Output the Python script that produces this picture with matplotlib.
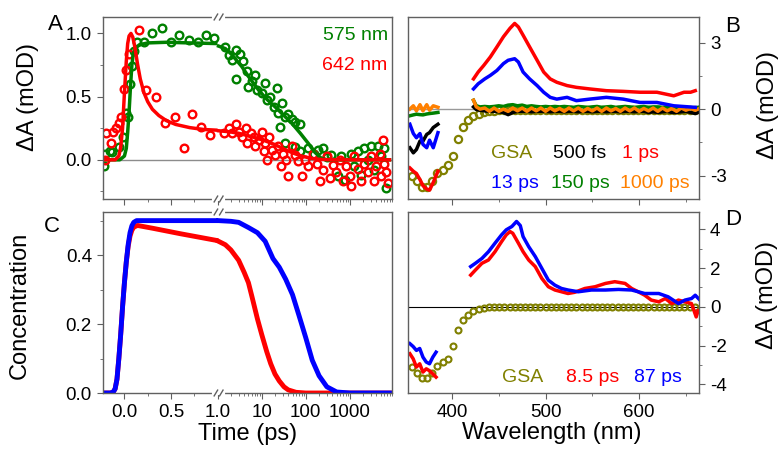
import numpy as np
import matplotlib
matplotlib.use('Agg')
import matplotlib.pyplot as plt

plt.rcParams['font.family'] = ['Liberation Sans', 'DejaVu Sans']
plt.rcParams['axes.unicode_minus'] = False

GREEN = '#008000'
RED = '#ff0000'
BLUE = '#0000ff'
OLIVE = '#808000'
ORANGE = '#ff8000'
FRAME = '#606060'

# ---- panel A: kinetic traces (time in ps, dA in mOD) ----
g575_t = [-0.22, -0.21, -0.16, -0.13, -0.06, -0.02, 0.02, 0.035, 0.06, 0.08, 0.10, 0.13,
          0.21, 0.30, 0.40, 0.50, 0.59, 0.69, 0.79, 0.88, 0.96,
          1.5, 1.8, 2.15, 2.6, 2.55, 3.15, 3.8, 4.7, 4.9, 6.1, 7.2, 7.9, 10, 12, 13,
          15.6, 18.6, 22, 24, 26, 28.5, 34, 40, 48, 57, 74, 34, 57, 74, 114, 150, 190,
          247, 300, 380, 540, 640, 760, 1070, 1270, 1500, 1800, 2140, 2550, 3000, 3500,
          4240, 5000, 6000, 6600]
g575_v = [-0.05, 0.05, 0.07, 0.06, 0.10, 0.18, 0.37, 0.34, 0.60, 0.74, 0.86, 0.93,
          0.93, 1.00, 1.04, 0.93, 0.99, 0.95, 0.93, 0.99, 0.96,
          0.89, 0.83, 0.79, 0.87, 0.64, 0.84, 0.78, 0.70, 0.58, 0.62, 0.67, 0.55, 0.53, 0.61, 0.47,
          0.50, 0.42, 0.57, 0.37, 0.26, 0.45, 0.34, 0.36, 0.32, 0.30, 0.28, 0.13, 0.10, 0.07, 0.09, 0.05, 0.08,
          0.09, 0.02, 0.04, -0.13, 0.03, -0.16, 0.05, -0.05, 0.07, -0.12, 0.09, 0.00, 0.11, -0.08,
          0.11, 0.03, 0.09, -0.22]
r642_t = [-0.21, -0.20, -0.14, -0.12, -0.09, -0.06, -0.04, 0.0, 0.02, 0.05, 0.16, 0.23,
          0.34, 0.44, 0.54, 0.64, 0.73, 0.82, 0.92,
          1.4, 1.8, 2.15, 2.6, 3.0, 3.6, 4.3, 4.6, 5.6, 6.6, 7.2, 8.6, 10, 11, 12, 13, 14.3,
          17, 20, 24, 27.7, 31, 36, 40, 48, 57, 67, 81, 96, 114, 147, 177, 210, 247, 295,
          350, 410, 490, 585, 690, 820, 980, 1070, 1270, 1500, 1800, 2140, 2550, 3000,
          3500, 3900, 4700, 5000, 5500, 6000, 6600, 7200]
r642_v = [0.00, 0.21, 0.13, 0.22, 0.25, 0.29, 0.34, 0.56, 0.71, 0.84, 1.03, 0.55,
          0.50, 0.29, 0.34, 0.09, 0.36, 0.26, 0.20,
          0.21, 0.25, 0.21, 0.28, 0.22, 0.18, 0.25, 0.13, 0.21, 0.18, 0.11, 0.16, 0.22, 0.07, 0.13, 0.00, 0.18,
          0.08, 0.04, 0.11, -0.05, 0.05, 0.00, -0.13, 0.11, 0.04, -0.01, -0.13, 0.00, -0.05, 0.05, -0.03, -0.17, -0.08, 0.03,
          -0.14, -0.04, -0.10, 0.00, -0.17, -0.05, -0.13, -0.21, 0.03, -0.07, -0.17, -0.03, -0.10, 0.03,
          -0.17, -0.05, 0.05, -0.13, 0.16, -0.03, -0.10, -0.18]

# fitted curves, short-time (linear) and long-time (log) parts
g575_fit_t1 = [-0.23, -0.05, 0.0, 0.02, 0.035, 0.05, 0.065, 0.08, 0.095, 0.12, 0.16, 0.25, 0.45, 0.7, 0.98]
g575_fit_v1 = [0.0, 0.0, 0.03, 0.09, 0.22, 0.38, 0.58, 0.75, 0.84, 0.885, 0.91, 0.925, 0.93, 0.925, 0.92]
g575_fit_t2 = [1.05, 1.5, 2, 3.5, 5, 8.6, 13, 20, 30, 48, 75, 114, 160, 220, 300, 7900]
g575_fit_v2 = [0.90, 0.88, 0.84, 0.74, 0.66, 0.55, 0.48, 0.42, 0.36, 0.29, 0.21, 0.13, 0.06, 0.015, 0.0, 0.0]
r642_fit_t1 = [-0.23, -0.1, -0.06, -0.04, -0.02, 0.0, 0.02, 0.035, 0.05, 0.07, 0.09, 0.11, 0.14, 0.17,
               0.21, 0.25, 0.30, 0.37, 0.45, 0.55, 0.70, 0.85, 0.98]
r642_fit_v1 = [0.0, 0.0, 0.03, 0.10, 0.25, 0.53, 0.78, 0.92, 0.98, 1.0, 0.97, 0.90, 0.76, 0.64,
               0.53, 0.46, 0.40, 0.35, 0.31, 0.28, 0.255, 0.24, 0.235]
r642_fit_t2 = [1.05, 1.5, 2, 3, 5, 8, 12, 20, 30, 50, 80, 130, 200, 400, 7900]
r642_fit_v2 = [0.23, 0.225, 0.22, 0.21, 0.19, 0.17, 0.15, 0.12, 0.09, 0.055, 0.03, 0.012, 0.004, 0.0, 0.0]

# ---- panel C: concentrations ----
cb_t1 = [-0.23, -0.15, -0.12, -0.1, -0.08, -0.06, -0.04, -0.02, 0.0, 0.02, 0.04, 0.06, 0.08, 0.1, 0.13, 0.2, 0.5, 0.98]
cb_v1 = [0.0, 0.0, 0.003, 0.012, 0.04, 0.10, 0.17, 0.25, 0.32, 0.38, 0.43, 0.465, 0.485, 0.495, 0.5, 0.5, 0.5, 0.5]
cb_t2 = [1.05, 2, 3, 5, 8, 12, 18, 25, 35, 50, 70, 100, 140, 200, 300, 500, 1000, 7900]
cb_v2 = [0.5, 0.498, 0.495, 0.48, 0.465, 0.44, 0.39, 0.365, 0.33, 0.285, 0.225, 0.16, 0.095, 0.05, 0.018, 0.003, 0.0, 0.0]
cr_t1 = [-0.23, -0.15, -0.12, -0.1, -0.08, -0.06, -0.04, -0.02, 0.0, 0.02, 0.04, 0.06, 0.08, 0.1, 0.14, 0.3, 0.6, 0.98]
cr_v1 = [0.0, 0.0, 0.003, 0.012, 0.04, 0.10, 0.17, 0.25, 0.32, 0.38, 0.425, 0.455, 0.472, 0.481, 0.486, 0.478, 0.462, 0.443]
cr_t2 = [1.05, 1.5, 2, 3, 4, 5, 6, 8, 10, 13, 16, 20, 25, 32, 40, 60, 100, 7900]
cr_v2 = [0.44, 0.43, 0.415, 0.385, 0.35, 0.32, 0.28, 0.215, 0.17, 0.12, 0.085, 0.055, 0.035, 0.018, 0.009, 0.002, 0.0, 0.0]

# ---- panels B and D: spectra (wavelength in nm, dA in mOD) ----
gsa_wl = [357, 362.5, 368, 373.5, 379, 384.5, 390, 395.5, 401, 406.5, 412, 417.5, 423, 428.5,
          434, 439.5, 445, 450.5, 456, 461.5, 467, 472.5, 478, 483.5, 489, 494.5, 500, 505.5,
          511, 516.5, 522, 527.5, 533, 538.5, 544, 549.5, 555, 560.5, 566, 571.5, 577, 582.5,
          588, 593.5, 599, 604.5, 610, 615.5, 621, 626.5, 632, 637.5, 643, 648.5, 654, 659.5]
gsa_b = [-3.03, -3.26, -3.50, -3.50, -3.25, -2.90, -2.75, -2.50, -2.10, -1.35, -0.80, -0.50, -0.30, -0.20,
         -0.14, -0.10, -0.08, -0.06, -0.05, -0.05, -0.05, -0.05, -0.05, -0.05, -0.05, -0.05, -0.05, -0.05,
         -0.05, -0.05, -0.05, -0.05, -0.05, -0.05, -0.05, -0.05, -0.05, -0.05, -0.05, -0.05, -0.05, -0.05,
         -0.05, -0.05, -0.05, -0.05, -0.05, -0.05, -0.05, -0.05, -0.05, -0.05, -0.05, -0.05, -0.05, -0.05]
gsa_d = [-3.10, -3.40, -3.65, -3.70, -3.40, -3.05, -2.85, -2.70, -2.00, -1.20, -0.70, -0.40, -0.20, -0.10,
         -0.05, -0.03, -0.02, -0.02, -0.02, -0.02, -0.02, -0.02, -0.02, -0.02, -0.02, -0.02, -0.02, -0.02,
         -0.02, -0.02, -0.02, -0.02, -0.02, -0.02, -0.02, -0.02, -0.02, -0.02, -0.02, -0.02, -0.02, -0.02,
         -0.02, -0.02, -0.02, -0.02, -0.02, -0.02, -0.02, -0.02, -0.02, -0.02, -0.02, -0.02, -0.02, -0.02]

wl_uv = [355, 358.7, 362, 365.8, 369, 373, 376, 380, 385]
b_1ps_uv = [-2.65, -2.80, -2.90, -3.18, -3.45, -3.60, -3.65, -3.30, -2.80]
b_500fs_uv = [-1.74, -1.97, -1.82, -1.44, -1.44, -1.14, -1.06, -0.83, -0.68]
b_13ps_uv = [-0.68, -1.10, -1.29, -1.10, -1.59, -1.74, -1.40, -1.74, -1.06]
b_150ps_uv = [-0.30, -0.26, -0.23, -0.25, -0.26, -0.22, -0.20, -0.18, -0.15]
b_1000ps_uv = [0.00, 0.15, -0.08, 0.20, -0.08, 0.20, -0.05, 0.15, 0.08]

b_1ps_wl = [423, 428, 434, 441, 448, 455, 462, 467, 471, 476, 483, 491, 498, 505, 512, 523, 533,
            547, 565, 583, 601, 619, 637, 648, 655, 660]
b_1ps = [1.36, 1.67, 1.97, 2.35, 2.80, 3.26, 3.64, 3.86, 3.70, 3.33, 2.80, 2.20, 1.67, 1.36, 1.21, 1.06, 0.98,
         0.91, 0.83, 0.80, 0.76, 0.76, 0.60, 0.76, 0.76, 0.83]
b_13ps_wl = [423, 428, 435, 441, 448, 455, 460, 467, 471, 476, 483, 491, 498, 505, 512, 523, 533,
             547, 565, 583, 601, 619, 637, 660]
b_13ps = [0.91, 1.14, 1.36, 1.52, 1.74, 2.05, 2.20, 2.27, 2.12, 1.67, 1.36, 1.06, 0.76, 0.53, 0.45, 0.53, 0.38,
          0.45, 0.53, 0.45, 0.30, 0.30, 0.15, 0.08]
b_flat_wl = [423, 426, 430, 435, 440, 445, 450, 455, 460, 465, 470, 475, 480, 485, 490, 495, 500, 505,
             510, 515, 520, 525, 530, 535, 540, 545, 550, 555, 560, 565, 570, 575, 580, 585, 590, 595,
             600, 605, 610, 615, 620, 625, 630, 635, 640, 645, 650, 655, 660, 663]
b_500fs = [0.10, -0.02, -0.05, -0.08, -0.10, -0.10, -0.12, -0.15, -0.25, -0.15, -0.10, -0.10, -0.10, -0.12,
           -0.10, -0.10, -0.10, -0.12, -0.10, -0.10, -0.12, -0.10, -0.10, -0.12, -0.10, -0.10, -0.12,
           -0.10, -0.10, -0.12, -0.10, -0.10, -0.12, -0.10, -0.10, -0.12, -0.10, -0.10, -0.15, -0.12,
           -0.15, -0.12, -0.10, -0.15, -0.15, -0.12, -0.10, -0.15, -0.20, -0.15]
b_150ps = [0.40, 0.15, 0.10, 0.12, 0.10, 0.12, 0.15, 0.12, 0.18, 0.20, 0.15, 0.18, 0.12, 0.15, 0.12,
           0.10, 0.12, 0.10, 0.12, 0.10, 0.12, 0.10, 0.08, 0.12, 0.10, 0.08, 0.10, 0.12, 0.08, 0.10,
           0.12, 0.08, 0.10, 0.12, 0.10, 0.08, 0.10, 0.12, 0.08, 0.10, 0.10, 0.08, 0.10, 0.05, 0.08,
           0.05, 0.08, 0.05, 0.05, 0.08]
b_1000ps = [0.40, 0.10, 0.00, 0.05, -0.10, 0.05, -0.10, 0.00, -0.10, 0.05, -0.08, 0.05, -0.10, 0.05,
            -0.08, 0.05, -0.10, 0.05, -0.08, 0.03, -0.10, 0.05, -0.08, 0.05, -0.10, 0.03, -0.08, 0.05,
            -0.10, 0.05, -0.08, 0.03, -0.10, 0.05, -0.08, 0.05, -0.10, 0.03, -0.08, 0.05, -0.10, 0.05,
            -0.08, 0.03, -0.10, 0.05, -0.05, 0.03, -0.05, 0.00]

d_uv_wl = [355, 358.5, 362, 365.5, 369, 372.5, 376, 379.5, 383]
d_8ps_uv = [-2.42, -2.68, -3.11, -2.94, -3.37, -3.20, -3.30, -3.46, -3.63]
d_87ps_uv = [-1.90, -2.05, -2.25, -2.15, -2.60, -2.85, -2.94, -2.60, -2.34]
d_8ps_wl = [420, 425, 432, 439, 446, 453, 458, 462, 465, 471, 476, 482, 489, 496, 503, 510, 517, 524,
            531, 542, 553, 564, 574, 585, 592, 599, 606, 613, 621, 628, 635, 642, 649, 656, 661, 663]
d_8ps = [1.64, 1.90, 2.25, 2.42, 2.85, 3.37, 3.72, 3.89, 3.80, 3.29, 2.85, 2.42, 2.08, 1.47, 1.04, 0.87, 0.78, 0.69,
         0.75, 0.95, 1.04, 1.21, 1.30, 1.21, 0.95, 0.78, 0.60, 0.35, 0.26, 0.43, 0.17, 0.35, 0.26, 0.17, -0.52, -0.20]
d_87ps_wl = [420, 425, 432, 439, 446, 453, 458, 464, 469, 473, 476, 482, 489, 496, 503, 510, 517, 524,
             535, 549, 564, 578, 592, 606, 621, 631, 642, 649, 656, 660, 664]
d_87ps = [2.08, 2.25, 2.50, 2.85, 3.29, 3.72, 3.98, 4.15, 4.41, 4.20, 3.63, 3.11, 2.60, 1.99, 1.38, 1.12, 0.95, 0.87,
          0.78, 0.87, 0.87, 0.90, 0.87, 0.69, 0.69, 0.52, 0.17, 0.35, 0.43, 0.60, 0.40]

# broken time axis: linear up to 1 ps, log afterwards
K = 44.5 / 94.0


def fwd(x):
    x = np.asarray(x, dtype=float)
    return np.where(x <= 1, x, 1 + K * np.log10(np.maximum(x, 1)))


def inv(y):
    y = np.asarray(y, dtype=float)
    return np.where(y <= 1, y, 10 ** ((np.minimum(y, 20) - 1) / K))


W, H = 778, 449
fig = plt.figure(figsize=(W / 100, H / 100), dpi=100)


def add_axes(l, r, t, b):
    return fig.add_axes([l / W, 1 - b / H, (r - l) / W, (b - t) / H])


def style(ax):
    for s in ax.spines.values():
        s.set_color(FRAME)
        s.set_linewidth(1)
    ax.tick_params(which='both', direction='out', color=FRAME, labelsize=13.5, pad=4)
    ax.tick_params(which='major', length=4)
    ax.tick_params(which='minor', length=2.5)


def time_axis(ax, labels):
    ax.set_xscale('function', functions=(fwd, inv))
    ax.set_xlim(-0.23, 7900)
    ax.set_xticks([0, 0.5, 1, 10, 100, 1000])
    ax.set_xticks([0.25, 0.75] + [m * 10 ** e for e in range(0, 4) for m in range(2, 10)], minor=True)
    if labels:
        ax.set_xticklabels(['0.0', '0.5', '1.0', '10', '100', '1000'])
    else:
        ax.set_xticklabels([])
    # break marks
    xb = (fwd(1.0) + 0.23) / (fwd(7900) + 0.23)
    gap = 4.5 / 289
    for y in (0, 1):
        ax.plot([xb - gap, xb + gap], [y, y], color='white', lw=3, transform=ax.transAxes,
                clip_on=False, zorder=5)
        for dx in (-gap * 0.6, gap * 0.6):
            ax.plot([xb + dx - 0.006, xb + dx + 0.006], [y - 0.016, y + 0.016], color=FRAME, lw=1,
                    transform=ax.transAxes, clip_on=False, zorder=6)


# ---- A ----
axA = add_axes(103, 392, 17, 199)
style(axA)
axA.axhline(0, color='#8c8c8c', lw=1, zorder=0)
axA.plot(g575_t, g575_v, 'o', ms=5.5, mfc='none', mec=GREEN, mew=1.7)
axA.plot(r642_t, r642_v, 'o', ms=5.5, mfc='none', mec=RED, mew=1.7)
axA.plot(g575_fit_t1, g575_fit_v1, color=GREEN, lw=2.5)
axA.plot(g575_fit_t2, g575_fit_v2, color=GREEN, lw=2.5)
axA.plot(r642_fit_t1, r642_fit_v1, color=RED, lw=2.5)
axA.plot(r642_fit_t2, r642_fit_v2, color=RED, lw=2.5)
time_axis(axA, False)
axA.set_ylim(-0.31, 1.13)
axA.set_yticks([0, 0.5, 1.0])
axA.set_yticklabels(['0.0', '0.5', '1.0'])
axA.set_yticks([-0.25, 0.25, 0.75], minor=True)
axA.text(0.985, 0.90, '575 nm', color=GREEN, fontsize=14, ha='right', va='center', transform=axA.transAxes)
axA.text(0.985, 0.735, '642 nm', color=RED, fontsize=14, ha='right', va='center', transform=axA.transAxes)

# ---- C ----
axC = add_axes(103, 392, 212, 393)
style(axC)
axC.plot(cr_t1, cr_v1, color=RED, lw=3.5)
axC.plot(cr_t2, cr_v2, color=RED, lw=3.5)
axC.plot(cb_t1, cb_v1, color=BLUE, lw=3.5)
axC.plot(cb_t2, cb_v2, color=BLUE, lw=3.5)
time_axis(axC, True)
axC.set_ylim(0, 0.525)
axC.set_yticks([0, 0.2, 0.4])
axC.set_yticklabels(['0.0', '0.2', '0.4'])
axC.set_yticks([0.1, 0.3, 0.5], minor=True)

# ---- B ----
axB = add_axes(408, 699, 17, 199)
style(axB)
axB.axhline(0, color='#999999', lw=1, zorder=0)
axB.plot(gsa_wl, gsa_b, 'o', ms=5.2, mfc='none', mec=OLIVE, mew=1.6)
for wl, v, c in [(wl_uv, b_1000ps_uv, ORANGE), (wl_uv, b_150ps_uv, GREEN), (wl_uv, b_500fs_uv, 'black'),
                 (wl_uv, b_13ps_uv, BLUE), (wl_uv, b_1ps_uv, RED),
                 (b_flat_wl, b_500fs, 'black'), (b_flat_wl, b_150ps, GREEN), (b_flat_wl, b_1000ps, ORANGE),
                 (b_13ps_wl, b_13ps, BLUE), (b_1ps_wl, b_1ps, RED)]:
    axB.plot(wl, v, color=c, lw=2.5)
axB.set_xlim(353, 664)
axB.set_ylim(-4.05, 4.15)
axB.set_xticks([400, 500, 600])
axB.set_xticks([450, 550, 650], minor=True)
axB.set_xticklabels([])
axB.yaxis.tick_right()
axB.set_yticks([-3, 0, 3])
axB.set_yticks([-1.5, 1.5], minor=True)
for x, y, s, c in [(512, 153, 'GSA', OLIVE), (580, 153, '500 fs', 'black'), (640, 153, '1 ps', RED),
                   (515, 183, '13 ps', BLUE), (580, 183, '150 ps', GREEN), (655, 183, '1000 ps', ORANGE)]:
    fig.text(x / W, 1 - y / H, s, color=c, fontsize=14, ha='center', va='center')

# ---- D ----
axD = add_axes(408, 699, 212, 393)
style(axD)
axD.axhline(0, color='black', lw=0.8, zorder=0)
axD.plot(gsa_wl, gsa_d, 'o', ms=4.3, mfc='none', mec=OLIVE, mew=1.5)
for wl, v, c in [(d_uv_wl, d_8ps_uv, RED), (d_uv_wl, d_87ps_uv, BLUE),
                 (d_8ps_wl, d_8ps, RED), (d_87ps_wl, d_87ps, BLUE)]:
    axD.plot(wl, v, color=c, lw=2.5)
axD.set_xlim(353, 664)
axD.set_ylim(-4.45, 4.9)
axD.set_xticks([400, 500, 600])
axD.set_xticks([450, 550, 650], minor=True)
axD.yaxis.tick_right()
axD.set_yticks([-4, -2, 0, 2, 4])
axD.set_yticks([-3, -1, 1, 3], minor=True)
for x, y, s, c in [(523, 378, 'GSA', OLIVE), (593, 378, '8.5 ps', RED), (658, 378, '87 ps', BLUE)]:
    fig.text(x / W, 1 - y / H, s, color=c, fontsize=14, ha='center', va='center')

# ---- labels ----
fig.text(28 / W, 1 - 97 / H, 'ΔA (mOD)', fontsize=17, rotation=90, ha='center', va='center')
fig.text(20 / W, 1 - 305 / H, 'Concentration', fontsize=17, rotation=90, ha='center', va='center')
fig.text(248 / W, 1 - 434 / H, 'Time (ps)', fontsize=17, ha='center', va='center')
fig.text(552 / W, 1 - 433 / H, 'Wavelength (nm)', fontsize=17, ha='center', va='center')
fig.text(768 / W, 1 - 105 / H, 'ΔA (mOD)', fontsize=17, rotation=90, ha='center', va='center')
fig.text(767 / W, 1 - 295 / H, 'ΔA (mOD)', fontsize=17, rotation=90, ha='center', va='center')
for x, y, s in [(55, 25, 'A'), (52, 226, 'C'), (733, 27, 'B'), (733, 220, 'D')]:
    fig.text(x / W, 1 - y / H, s, fontsize=16, ha='center', va='center')

fig.savefig('out.png', dpi=100)
